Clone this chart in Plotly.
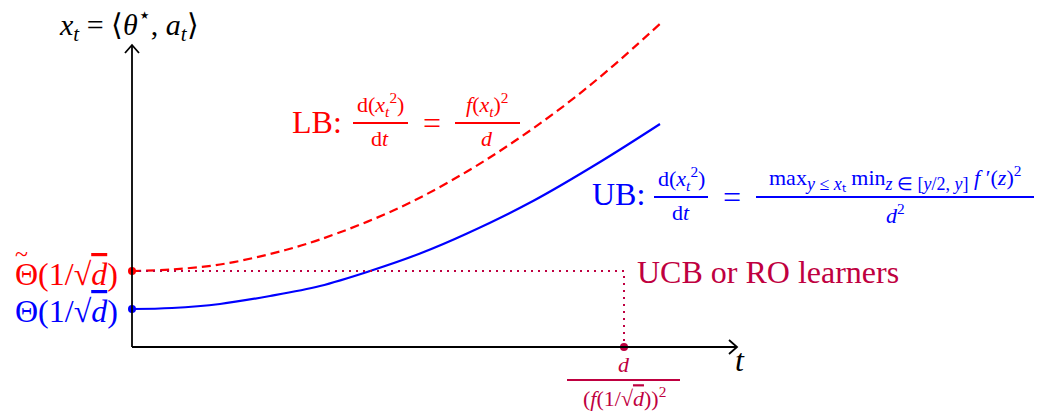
import plotly.graph_objects as go

# curve samples (t along the horizontal axis, x_t up)
ub_t = [0, 0.8, 1.76, 2.76, 3.76, 4.76, 5.76, 6.70, 8.02, 9.36, 10.56]
ub_x = [0.76, 0.78, 0.86, 1.02, 1.22, 1.52, 1.87, 2.27, 2.92, 3.70, 4.46]

lb_t = [0, 0.8, 1.76, 2.76, 3.76, 5.36, 6.70, 7.76, 8.70, 9.56, 10.60]
lb_x = [1.52, 1.55, 1.65, 1.86, 2.15, 2.79, 3.51, 4.19, 4.87, 5.57, 6.50]

# dotted guide for the UCB / RO learners
guide_t = [0, 9.84, 9.84]
guide_x = [1.52, 1.52, 0]

# start points and the hitting time on the t axis
start_ub = 0.76
start_lb = 1.52
hit_t = 9.84

t_axis_end = 12.1
x_axis_end = 6.04

RED = "#ff0000"
BLUE = "#0000ff"
PURPLE = "#bf0040"
FONT = "Liberation Serif"

# the page body has an 8px margin, so the figure starts at (8, 8)
OFF = 8
W, H = 1042 - OFF, 411 - OFF


def px(x):
    return (x - OFF) / W


def py(y):
    return 1 - (y - OFF) / H


fig = go.Figure()

fig.add_trace(go.Scatter(x=lb_t, y=lb_x, mode="lines", line_shape="spline",
                         line=dict(color=RED, width=2.2, dash="9px,5px")))
fig.add_trace(go.Scatter(x=ub_t, y=ub_x, mode="lines", line_shape="spline",
                         line=dict(color=BLUE, width=2.2)))
fig.add_trace(go.Scatter(x=guide_t, y=guide_x, mode="lines",
                         line=dict(color=PURPLE, width=2, dash="2px,5px")))
fig.add_trace(go.Scatter(x=[0, 0, hit_t], y=[start_lb, start_ub, 0], mode="markers",
                         marker=dict(color=[RED, BLUE, PURPLE], size=8)))

# axes with open arrow tips
shapes = [
    dict(type="line", xref="x", yref="y", x0=0, y0=0, x1=t_axis_end, y1=0,
         line=dict(color="black", width=1.8)),
    dict(type="line", xref="x", yref="y", x0=0, y0=0, x1=0, y1=x_axis_end,
         line=dict(color="black", width=1.8)),
]
tip_x = [(px(729), py(340)), (px(737), py(347)), (px(729), py(354))]
tip_y = [(px(125), py(53)), (px(132), py(45)), (px(139), py(53))]
for tip in (tip_x, tip_y):
    path = "M {} {} L {} {} L {} {}".format(tip[0][0], tip[0][1], tip[1][0], tip[1][1],
                                            tip[2][0], tip[2][1])
    shapes.append(dict(type="path", xref="paper", yref="paper", path=path,
                       line=dict(color="black", width=1.8)))

annotations = []


def txt(x, y, s, color="black", size=32, xanchor="center", yanchor="middle"):
    annotations.append(dict(x=px(x), y=py(y), xref="paper", yref="paper", text=s,
                            showarrow=False, xanchor=xanchor, yanchor=yanchor,
                            font=dict(family=FONT, size=size, color=color)))


def frac(xc, ybar, x0, x1, num, den, color, size=22):
    txt(xc, ybar - 1, num, color, size, yanchor="bottom")
    txt(xc, ybar + 1, den, color, size, yanchor="top")
    shapes.append(dict(type="line", xref="paper", yref="paper", x0=px(x0), x1=px(x1),
                       y0=py(ybar), y1=py(ybar), line=dict(color=color, width=2)))


sqrt_d = "√<span style='text-decoration:overline'><i>d</i></span>"


def small(s):
    return "<span style='font-size:18px'>" + s + "</span>"


txt(129, 25, "<i>x</i><sub><i>t</i></sub> = ⟨<i>θ</i><sup>⋆</sup>, <i>a</i><sub><i>t</i></sub>⟩", size=30)
txt(740, 360, "<i>t</i>")

# lower bound label
txt(290, 122, "LB:", RED, xanchor="left")
frac(380, 123, 353, 408, "d(<i>x</i><sub><i>t</i></sub><sup>2</sup>)", "d<i>t</i>", RED)
txt(432, 123, "=", RED)
frac(487, 123, 455, 520, "<i>f</i>(<i>x</i><sub><i>t</i></sub>)<sup>2</sup>", "<i>d</i>", RED)

# upper bound label
txt(590, 194, "UB:", BLUE, xanchor="left")
frac(681, 197, 654, 708, "d(<i>x</i><sub><i>t</i></sub><sup>2</sup>)", "d<i>t</i>", BLUE)
txt(732, 197, "=", BLUE)
frac(895, 197, 756, 1035,
     "max<sub>" + small("<i>y</i> ≤ <i>x</i>ₜ") + "</sub> min<sub>"
     + small("<i>z</i> ∈ [<i>y</i>/2, <i>y</i>]") + "</sub> <i>f</i> ′(<i>z</i>)<sup>2</sup>",
     "<i>d</i><sup>2</sup>", BLUE)

# starting levels
txt(120, 274, "Θ(1/" + sqrt_d + ")", RED, xanchor="right")
txt(21, 254, "~", RED, size=24)
txt(120, 311, "Θ(1/" + sqrt_d + ")", BLUE, xanchor="right")

txt(635, 272, "UCB or RO learners", PURPLE, xanchor="left")
frac(624, 380, 567, 680, "<i>d</i>", "(<i>f</i>(1/" + sqrt_d + "))<sup>2</sup>", PURPLE)

fig.update_layout(
    width=W, height=H, autosize=False,
    margin=dict(l=0, r=0, t=0, b=0),
    plot_bgcolor="white", paper_bgcolor="white",
    showlegend=False,
    xaxis=dict(range=[(OFF - 132) / 50, (1042 - 132) / 50], visible=False, fixedrange=True),
    yaxis=dict(range=[(347 - 411) / 50, (347 - OFF) / 50], visible=False, fixedrange=True),
    shapes=shapes, annotations=annotations,
)

fig.write_html("out.html")
